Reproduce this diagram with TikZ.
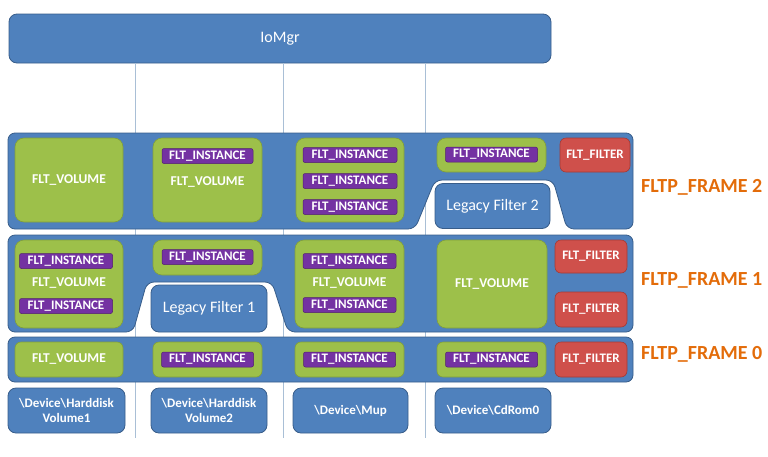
\documentclass[tikz,border=0pt]{standalone}
\usepackage{fontspec}
\setmainfont{Carlito}
\definecolor{boxblue}{HTML}{4F81BD}
\definecolor{boxedge}{HTML}{385D8A}
\definecolor{volgreen}{HTML}{9DC04A}
\definecolor{voledge}{HTML}{819F3A}
\definecolor{instpurple}{HTML}{7432A2}
\definecolor{instedge}{HTML}{52206F}
\definecolor{filtred}{HTML}{CF504B}
\definecolor{filtedge}{HTML}{A43A36}
\definecolor{lblorange}{HTML}{E36C0A}
\definecolor{linegray}{HTML}{A9BFD6}
\tikzset{
  frameshape/.style={fill=boxblue,draw=boxedge,line width=0.8pt,rounded corners=7pt},
  blkbox/.style={fill=boxblue,draw=boxedge,line width=0.8pt,rounded corners=8pt,text=white,
    inner sep=0pt,align=center,font=\fontsize{13}{15.5}\selectfont\bfseries},
  volbox/.style={fill=volgreen,draw=voledge,line width=0.6pt,rounded corners=9pt,text=white,
    inner sep=0pt,font=\fontsize{13.5}{15}\selectfont\bfseries},
  voltxt/.style={text=white,inner sep=0pt,font=\fontsize{13.5}{15}\selectfont\bfseries},
  instbox/.style={fill=instpurple,draw=instedge,line width=0.5pt,rounded corners=2pt,text=white,
    inner sep=0pt,minimum height=15pt,font=\fontsize{13}{15}\selectfont\bfseries},
  filtbox/.style={fill=filtred,draw=filtedge,line width=0.6pt,rounded corners=6pt,text=white,
    inner sep=0pt,minimum width=72pt,font=\fontsize{13}{15}\selectfont\bfseries},
  framelbl/.style={anchor=west,text=lblorange,inner sep=0pt,font=\fontsize{20}{22}\selectfont\bfseries},
  vline/.style={draw=linegray,line width=0.8pt}
}
\begin{document}
\begin{tikzpicture}[x=1pt,y=-1pt]
  \useasboundingbox (0,0) rectangle (768,456);
  \node[blkbox,minimum width=542pt,minimum height=49pt,font=\fontsize{16}{18}\selectfont] (iomgr) at (280,38.5) {IoMgr};
  % lines down to the devices
  \coordinate (l1) at (135,438);
  \coordinate (l2) at (283,438);
  \coordinate (l3) at (425,438);
  \foreach \l in {l1,l2,l3}
    \draw[vline] (iomgr.south -| \l) -- (\l);

  % frame 2
  \draw[frameshape] (8,133) -- (633,133) -- (633,229) -- (567,229) -- (553,180)
    -- (435,180) -- (415,229) -- (8,229) -- cycle;
  \node[volbox,minimum width=108pt,minimum height=84pt] (v21) at (69,180) {FLT\_VOLUME};
  \node[volbox,minimum width=109pt,minimum height=84pt] (v22) at (207.5,180) {};
  \node[instbox,minimum width=91pt] (i22) at (207.5,156) {FLT\_INSTANCE};
  \node[voltxt] (t22) at (207.5,182) {FLT\_VOLUME};
  \node[volbox,minimum width=108pt,minimum height=84pt] (v23) at (350,180) {};
  \foreach \y/\n in {155/a,181/b,207/c}
    \node[instbox,minimum width=94pt] (i23\n) at (350,\y) {FLT\_INSTANCE};
  \node[volbox,minimum width=109pt,minimum height=34pt] (v24) at (491.5,155) {};
  \node[instbox,minimum width=92pt] (i24) at (491.5,154.5) {FLT\_INSTANCE};
  \node[filtbox,minimum width=70pt,minimum height=34pt] (f2) at (595,155) {FLT\_FILTER};
  \node[blkbox,minimum width=115pt,minimum height=45pt,font=\fontsize{16}{18}\selectfont] (legacy2) at (492.5,206) {Legacy Filter 2};
  \node[framelbl] (lbl2) at (641,187) {FLTP\_FRAME 2};

  % frame 1
  \draw[frameshape] (8,235) -- (633,235) -- (633,332) -- (288,332) -- (272,282)
    -- (147,282) -- (133,332) -- (8,332) -- cycle;
  \node[volbox,minimum width=108pt,minimum height=88pt] (v11) at (69,284) {};
  \node[instbox,minimum width=93pt] (i11a) at (66,261) {FLT\_INSTANCE};
  \node[voltxt] (t11) at (69,283) {FLT\_VOLUME};
  \node[instbox,minimum width=93pt] (i11b) at (66,306) {FLT\_INSTANCE};
  \node[volbox,minimum width=109pt,minimum height=35pt] (v12) at (207.5,257.5) {};
  \node[instbox,minimum width=91pt] (i12) at (207.5,257) {FLT\_INSTANCE};
  \node[volbox,minimum width=109pt,minimum height=88pt] (v13) at (349.5,284) {};
  \node[instbox,minimum width=93pt] (i13a) at (349.5,261) {FLT\_INSTANCE};
  \node[voltxt] (t13) at (349.5,283) {FLT\_VOLUME};
  \node[instbox,minimum width=93pt] (i13b) at (349.5,305) {FLT\_INSTANCE};
  \node[volbox,minimum width=110pt,minimum height=88pt] (v14) at (492,284) {FLT\_VOLUME};
  \node[filtbox,minimum height=33pt] (f11) at (591,256.5) {FLT\_FILTER};
  \node[filtbox,minimum height=35pt] (f12) at (591,309.5) {FLT\_FILTER};
  \node[blkbox,minimum width=116pt,minimum height=47pt,font=\fontsize{16}{18}\selectfont] (legacy1) at (209,308.5) {Legacy Filter 1};
  \node[framelbl] (lbl1) at (641,280) {FLTP\_FRAME 1};

  % frame 0
  \draw[frameshape] (8,337) rectangle (633,382);
  \node[volbox,minimum width=108pt,minimum height=35pt,rounded corners=6pt] (v01) at (69,359.5) {FLT\_VOLUME};
  \foreach \x/\n in {207.5/2,349.5/3,491.5/4} {
    \node[volbox,minimum width=109pt,minimum height=35pt,rounded corners=6pt] (v0\n) at (\x,359.5) {};
    \node[instbox,minimum width=92pt] (i0\n) at (\x,359.5) {FLT\_INSTANCE};
  }
  \node[filtbox,minimum height=35pt] (f0) at (591,359.5) {FLT\_FILTER};
  \node[framelbl] (lbl0) at (641,354) {FLTP\_FRAME 0};

  % devices
  \node[blkbox,minimum width=117pt,minimum height=45pt] (dev1) at (66.5,410.5) {\textbackslash Device\textbackslash Harddisk\\Volume1};
  \node[blkbox,minimum width=116pt,minimum height=45pt] (dev2) at (209,410.5) {\textbackslash Device\textbackslash Harddisk\\Volume2};
  \node[blkbox,minimum width=115pt,minimum height=45pt] (dev3) at (350.5,410.5) {\textbackslash Device\textbackslash Mup};
  \node[blkbox,minimum width=116pt,minimum height=45pt] (dev4) at (493,410.5) {\textbackslash Device\textbackslash CdRom0};
\end{tikzpicture}
\end{document}
